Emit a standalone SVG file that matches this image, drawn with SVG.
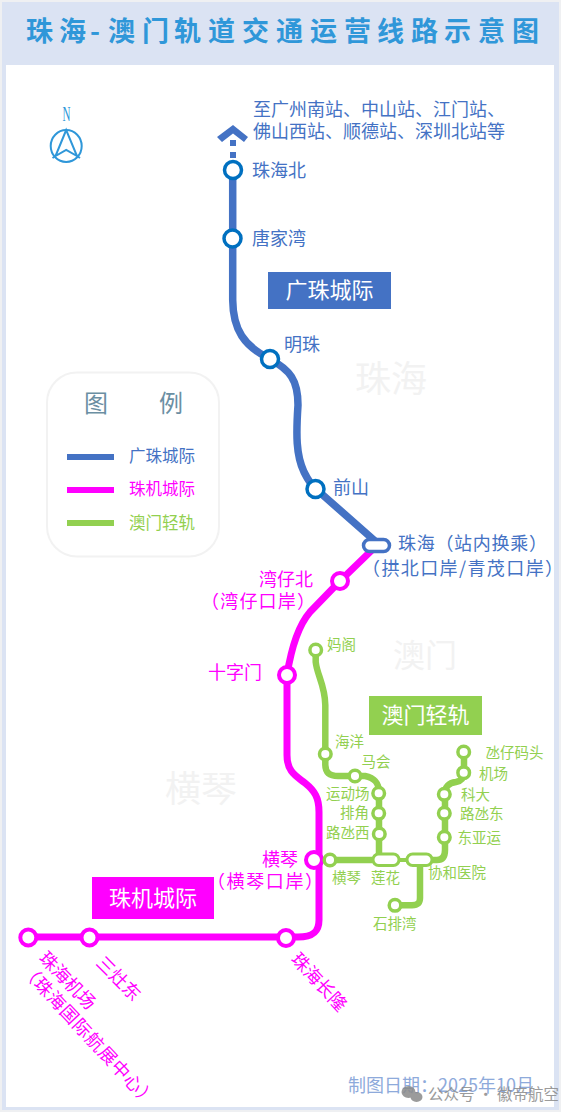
<svg xmlns="http://www.w3.org/2000/svg" width="579" height="1117" viewBox="0 0 579 1117">
<style>
text{font-family:"Noto Sans CJK SC","Noto Sans",sans-serif}
.gz{fill:#4472c4;font-size:18px}
.zj{fill:#f0f;font-size:18px}
.am{fill:#92d050;font-size:14.5px}
.lg{font-size:16.5px}
.badge{fill:#fff;font-size:22px;text-anchor:middle}
.wm{fill:#f2f2f2;font-size:36px}
.line{fill:none;stroke-linecap:butt;stroke-linejoin:round}
.st{fill:#fff;stroke-width:3.5}
.gzs{stroke:#0070c0}
.zjs{stroke:#f0f;stroke-width:4}
.ams{stroke:#92d050;stroke-width:3.5}
</style>
<rect width="579" height="1117" fill="#fff"/>
<rect width="561" height="1112" fill="#eff0f2"/>
<rect x="2" y="2" width="557" height="1108" fill="#dbe3f3"/>
<rect x="6" y="65" width="548" height="1042" fill="#fff"/>
<text y="41" font-weight="700" fill="#2f97d9" style="font-size:27px"><tspan x="26">珠</tspan><tspan x="59">海</tspan><tspan x="90">-</tspan><tspan x="108">澳</tspan><tspan x="142">门</tspan><tspan x="174">轨</tspan><tspan x="208">道</tspan><tspan x="242">交</tspan><tspan x="276">通</tspan><tspan x="310">运</tspan><tspan x="344">营</tspan><tspan x="377">线</tspan><tspan x="411">路</tspan><tspan x="444">示</tspan><tspan x="478">意</tspan><tspan x="512">图</tspan></text>
<g id="watermarks">
<text class="wm" x="355" y="392">珠海</text>
<text class="wm" x="393" y="667" style="font-size:32px">澳门</text>
<text class="wm" x="165" y="802">横琴</text>
</g>
<g id="compass" fill="none" stroke="#2f97d9" stroke-width="2">
<text x="62.500" y="121" textLength="8" lengthAdjust="spacingAndGlyphs" fill="#2f97d9" stroke="none" style="font-family:'Liberation Serif',serif;font-size:20px">N</text>
<ellipse cx="66.200" cy="146" rx="15.500" ry="16"/>
<path d="M66.200 130 L55.500 156 L66.200 150 L77 156 Z M55.500 156 L52.500 158 M77 156 L80 158"/>
</g>
<g id="legend">
<rect x="47" y="372.500" width="172" height="184" rx="30" fill="#fff" stroke="#f2f2f2" stroke-width="2"/>
<text x="84" y="412" fill="#6b8fa3" style="font-size:24px">图</text>
<text x="159" y="412" fill="#6b8fa3" style="font-size:24px">例</text>
<rect x="67" y="454" width="47" height="6" fill="#4472c4"/>
<rect x="67" y="487" width="47" height="6" fill="#f0f"/>
<rect x="67" y="520" width="47" height="6" fill="#92d050"/>
<text class="lg" x="129" y="462" fill="#4472c4">广珠城际</text>
<text class="lg" x="129" y="495" fill="#f0f">珠机城际</text>
<text class="lg" x="129" y="529" fill="#92d050">澳门轻轨</text>
</g>
<g id="connectors">
<polygon points="233,125 248,137 244,142 233,133.500 222,142 217,137" fill="#4472c4"/>
<rect x="230" y="140" width="6" height="6" fill="#4472c4"/>
<rect x="230" y="152" width="6" height="6" fill="#4472c4"/>
<path class="line" stroke="#f0f" stroke-width="7" d="M372 550 L340 581 L310 612 C298 626 291 650 287 675 V755 C287 772 296 776 305 783 C315 791 319 798 319 812 V920 C319 932 313 937 298 937 H28"/>
<path class="line" stroke="#4472c4" stroke-width="7.500" d="M232.700 170 V300 C233 330 244 346 270 359 C290 370 298 380 298 405 C296 435 296 455 304 472 C308 480 311 485 316 489 L375 541"/>
<g stroke="#92d050" stroke-width="6.500" class="line" fill="none">
<path d="M315.700 650 V662 C317 675 325 685 325.300 705 V765 C325.500 773 330 776 338 776 H365 C375 778 379 783 379 793 V856"/>
<path d="M330 860 H372"/>
<path d="M399 860 H406" stroke-width="4"/>
<path d="M432 860 H437 C443 860 445 856 445 850 V794 C445 787 448 783 456 782 C461 781 464 779 464 772 V752"/>
<path d="M395 905.300 H412 C418 905 420 903 420 898 V866"/>
</g>
</g>
<g id="gz-beyond"><text class="gz" x="253" y="116">至广州南站、中山站、江门站、</text><text class="gz" x="253" y="138">佛山西站、顺德站、深圳北站等</text></g>
<g id="st-zhuhaibei"><circle class="st gzs" cx="233" cy="170" r="8.500"/><text class="gz" x="252" y="177">珠海北</text></g>
<g id="st-tangjiawan"><circle class="st gzs" cx="232.500" cy="238.500" r="8.500"/><text class="gz" x="252" y="245">唐家湾</text></g>
<g id="st-mingzhu"><circle class="st gzs" cx="270" cy="359" r="8.500"/><text class="gz" x="284" y="351">明珠</text></g>
<g id="st-qianshan"><circle class="st gzs" cx="315.500" cy="489" r="8.500"/><text class="gz" x="333" y="494">前山</text></g>
<g id="st-zhuhai"><rect x="363.500" y="539.500" width="26" height="12" rx="6" fill="#fff" stroke="#4472c4" stroke-width="3.500"/><text class="gz" x="398" y="550" letter-spacing="0.700">珠海（站内换乘）</text><text class="gz" x="362" y="575" letter-spacing="1.400">（拱北口岸/青茂口岸）</text></g>
<g id="badge-gz"><rect x="268" y="272" width="123" height="37" fill="#4472c4"/><text class="badge" x="329.500" y="298">广珠城际</text></g>
<g id="badge-zj"><rect x="92" y="877" width="122" height="42" fill="#f0f"/><text class="badge" x="153" y="906">珠机城际</text></g>
<g id="badge-am"><rect x="369" y="696" width="113" height="39" fill="#92d050"/><text class="badge" x="425.500" y="723">澳门轻轨</text></g>
<g id="st-wanzaibei"><circle class="st zjs" cx="340" cy="581" r="8"/><text class="zj" x="259" y="586">湾仔北</text><text class="zj" x="201" y="608" letter-spacing="1.200">（湾仔口岸）</text></g>
<g id="st-shizimen"><circle class="st zjs" cx="287" cy="675" r="8"/><text class="zj" x="208" y="679">十字门</text></g>
<g id="st-hengqin-zj"><circle class="st zjs" cx="314" cy="860" r="8"/><text class="zj" x="262" y="866">横琴</text><text class="zj" x="207" y="888" letter-spacing="1.600">（横琴口岸）</text></g>
<g id="st-changlong"><circle class="st zjs" cx="286" cy="938" r="8"/><text class="zj" transform="translate(290 960) rotate(47)">珠海长隆</text></g>
<g id="st-sanzaodong"><circle class="st zjs" cx="89.500" cy="937.500" r="8"/><text class="zj" transform="translate(95 964) rotate(45)">三灶东</text></g>
<g id="st-airport"><circle class="st zjs" cx="28.300" cy="937.500" r="8"/><text class="zj" transform="translate(38 959) rotate(46)">珠海机场</text><text class="zj" transform="translate(20 971) rotate(47)" letter-spacing="0.800">（珠海国际航展中心）</text></g>
<g id="st-mage"><circle class="st ams" cx="315.700" cy="650" r="5.800"/><text class="am" x="327" y="650">妈阁</text></g>
<g id="st-haiyang"><circle class="st ams" cx="325.300" cy="754" r="5.800"/><text class="am" x="335" y="747">海洋</text></g>
<g id="st-mahui"><circle class="st ams" cx="355" cy="776" r="5.800"/><text class="am" x="361.500" y="767">马会</text></g>
<g id="st-yundongchang"><circle class="st ams" cx="378.700" cy="793.300" r="5.800"/><text class="am" x="326" y="799">运动场</text></g>
<g id="st-paijiao"><circle class="st ams" cx="378.700" cy="813.300" r="5.800"/><text class="am" x="340" y="818">排角</text></g>
<g id="st-ludanxi"><circle class="st ams" cx="379.300" cy="834" r="5.800"/><text class="am" x="326" y="838">路氹西</text></g>
<g id="st-hengqin-am"><circle class="st ams" cx="330" cy="860" r="5.800"/><text class="am" x="332" y="883">横琴</text></g>
<g id="st-lianhua"><rect x="373" y="854" width="26" height="11.500" rx="5.700" fill="#fff" stroke="#92d050" stroke-width="3"/><text class="am" x="371" y="883">莲花</text></g>
<g id="st-xiehe"><rect x="407" y="854" width="25" height="11.500" rx="5.700" fill="#fff" stroke="#92d050" stroke-width="3"/><text class="am" x="428" y="878">协和医院</text></g>
<g id="st-shipaiwan"><circle class="st ams" cx="395" cy="905.300" r="5.800"/><text class="am" x="373" y="929">石排湾</text></g>
<g id="st-dongyayun"><circle class="st ams" cx="444.300" cy="837.300" r="5.800"/><text class="am" x="457.500" y="843">东亚运</text></g>
<g id="st-ludandong"><circle class="st ams" cx="444.300" cy="813.300" r="5.800"/><text class="am" x="460" y="819">路氹东</text></g>
<g id="st-keda"><circle class="st ams" cx="444.300" cy="794.300" r="5.800"/><text class="am" x="461" y="800">科大</text></g>
<g id="st-jichang"><circle class="st ams" cx="463.700" cy="772.700" r="5.800"/><text class="am" x="479" y="779">机场</text></g>
<g id="st-danzai"><circle class="st ams" cx="463.700" cy="752" r="5.800"/><text class="am" x="485.500" y="758">氹仔码头</text></g>
<g id="footer">
<text x="348" y="1092" fill="#8eaadb" style="font-size:18px">制图日期：2025年10月</text>
<g fill="#8a8a8a" opacity="0.85"><ellipse cx="408.500" cy="1092" rx="7" ry="6"/><ellipse cx="416.500" cy="1097" rx="6" ry="5"/></g>
<text x="428" y="1100" fill="#8a8a8a" opacity="0.85" style="font-size:15.500px">公众号 · 徽帝航空</text>
</g>
</svg>
